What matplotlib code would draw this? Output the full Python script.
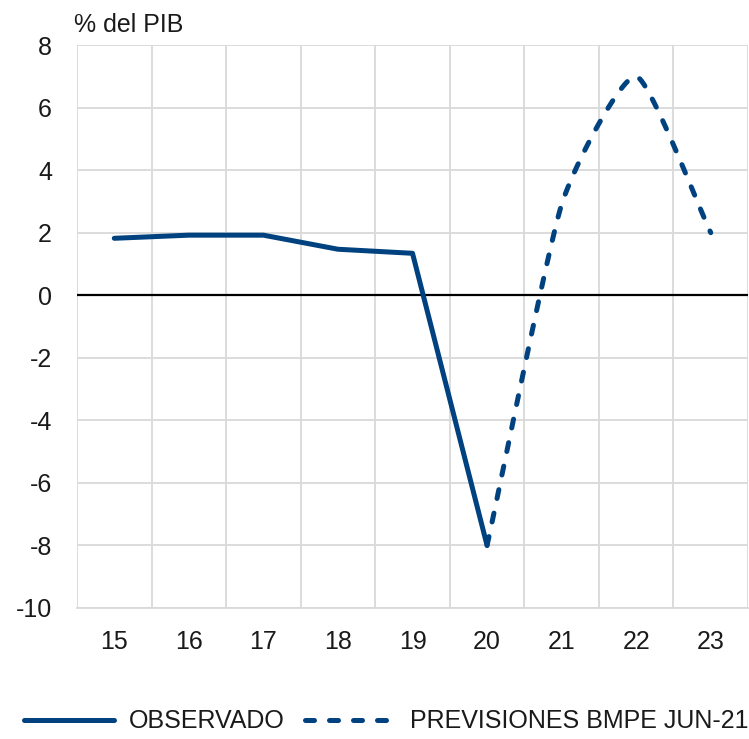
import numpy as np
import matplotlib.pyplot as plt
from matplotlib.lines import Line2D

years = ["15", "16", "17", "18", "19", "20", "21", "22", "23"]
observado = [1.82, 1.92, 1.92, 1.47, 1.34, -8.0]
previsiones = [-8.0, 2.9, 7.0, 2.0]
yticks = [-10, -8, -6, -4, -2, 0, 2, 4, 6, 8]

blue = "#00427F"
dash = (0, (1.8, 3.0))
plt.rcParams['font.family'] = ['Liberation Sans', 'DejaVu Sans']


def smooth(xs, ys, k=0.09, n=40):
    # light bezier smoothing, like Excel's smoothed line
    xs = np.asarray(xs, float)
    ys = np.asarray(ys, float)
    px = np.concatenate([[2 * xs[0] - xs[1]], xs, [2 * xs[-1] - xs[-2]]])
    py = np.concatenate([[2 * ys[0] - ys[1]], ys, [2 * ys[-1] - ys[-2]]])
    outx, outy = [], []
    for i in range(1, len(px) - 2):
        t = np.linspace(0, 1, n)
        for p, out in ((px, outx), (py, outy)):
            p0, p1, p2, p3 = p[i - 1], p[i], p[i + 1], p[i + 2]
            c1 = p1 + (p2 - p0) * k
            c2 = p2 - (p3 - p1) * k
            out.extend((1 - t) ** 3 * p1 + 3 * (1 - t) ** 2 * t * c1
                       + 3 * (1 - t) * t ** 2 * c2 + t ** 3 * p2)
    return outx, outy


fig = plt.figure(figsize=(7.49, 7.39), dpi=100)
ax = fig.add_axes([0.1028, 0.1773, 0.8959, 0.7618])

x = np.arange(len(years))
ax.plot(x[:len(observado)], observado, color=blue, lw=3.6,
        solid_capstyle="round", solid_joinstyle="round", zorder=3)
fx = x[len(observado) - 1:]
sx, sy = smooth(fx, previsiones)
ax.plot(sx, sy, color=blue, lw=3.6, linestyle=dash,
        dash_capstyle="round", zorder=3)

ax.axhline(0, color="black", lw=1.6, zorder=2)

ax.set_xlim(-0.5, len(years) - 0.5)
ax.set_ylim(-10, 8)
ax.set_yticks(yticks)
ax.set_yticklabels([str(v) for v in yticks])
ax.set_xticks(x)
ax.set_xticklabels(years)
ax.set_xticks(np.arange(-0.5, len(years)), minor=True)
ax.grid(False)
ax.grid(True, axis="y", which="major", color="#d9d9d9", lw=1.3)
ax.grid(True, axis="x", which="minor", color="#d9d9d9", lw=1.3)
ax.tick_params(which="both", length=0)
ax.tick_params(axis="y", pad=18, labelsize=18, colors="#1a1a1a")
ax.tick_params(axis="x", pad=16, labelsize=18, colors="#1a1a1a")
for s in ax.spines.values():
    s.set_visible(False)
ax.spines["bottom"].set_visible(True)
ax.spines["bottom"].set_color("#d9d9d9")
ax.spines["bottom"].set_linewidth(1.3)

fig.text(0.099, 0.966, "% del PIB", fontsize=18, color="#1a1a1a",
         ha="left", va="center")

handles = [
    Line2D([], [], color=blue, lw=3.6, solid_capstyle="round"),
    Line2D([], [], color=blue, lw=3.6, linestyle=dash,
           dash_capstyle="round"),
]
fig.legend(handles, ["OBSERVADO", "PREVISIONES BMPE JUN-21"], loc="center",
           bbox_to_anchor=(0.516, 0.024), ncol=2, frameon=False, fontsize=18,
           handlelength=3.6, handletextpad=0.6, columnspacing=0.8,
           labelcolor="#1a1a1a")

fig.savefig("out.png", dpi=100)
